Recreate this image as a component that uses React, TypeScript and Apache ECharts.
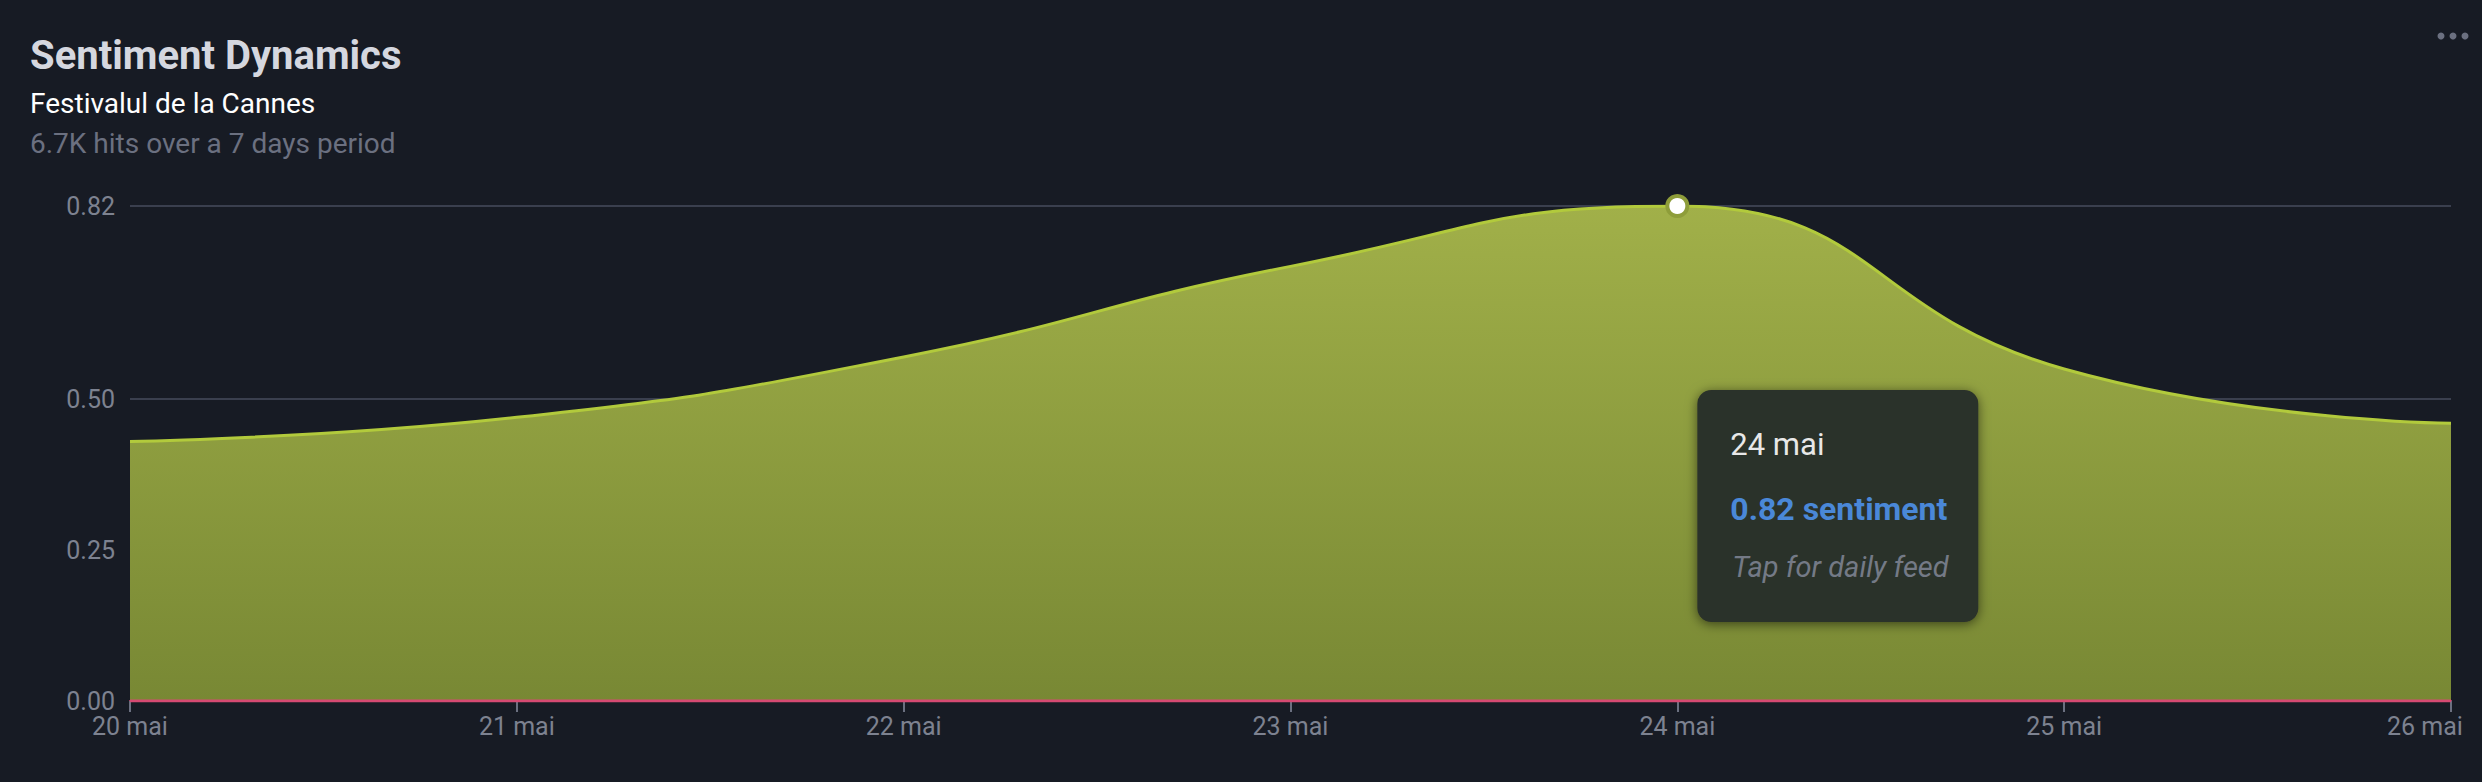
import React, { useEffect, useRef } from "react";
import * as echarts from "echarts";

const TITLE = "Sentiment Dynamics";
const SUBTITLE = "Festivalul de la Cannes";
const META = "6.7K hits over a 7 days period";

const dates = ["20 mai", "21 mai", "22 mai", "23 mai", "24 mai", "25 mai", "26 mai"];
const sentiment = [0.43, 0.47, 0.57, 0.72, 0.82, 0.55, 0.46];
const negative = [0, 0, 0, 0, 0, 0, 0];
const yTicks = [0, 0.25, 0.5, 0.82];
const Y_MAX = 0.82;
const HOVER_INDEX = 4;
const TOOLTIP_HINT = "Tap for daily feed";

const FONT = "Roboto, 'Noto Sans', sans-serif";

export default function App() {
  const ref = useRef<HTMLDivElement>(null);

  useEffect(() => {
    document.body.style.margin = "0";
    document.body.style.background = "#171b24";
    const el = ref.current!;
    const chart = echarts.init(el, null, { renderer: "svg" });

    const lineData = sentiment.map((v, i) =>
      i === HOVER_INDEX
        ? {
            value: v,
            symbol: "circle",
            symbolSize: 20,
            itemStyle: { color: "#ffffff", borderColor: "#8e9d3a", borderWidth: 4 },
          }
        : { value: v, symbol: "none" }
    );

    const xLabelStyle = { color: "#7d8290", fontSize: 25, fontFamily: FONT };

    const option: any = {
      animation: false,
      backgroundColor: "#171b24",
      textStyle: { fontFamily: FONT },
      title: [
        {
          text: TITLE,
          left: 30,
          top: 35,
          padding: 0,
          textStyle: { color: "#d5d7df", fontSize: 40, fontWeight: "bold", fontFamily: FONT },
        },
        {
          text: SUBTITLE,
          left: 30,
          top: 89,
          padding: 0,
          textStyle: { color: "#ffffff", fontSize: 28, fontWeight: "normal", fontFamily: FONT },
        },
        {
          text: META,
          left: 30,
          top: 129,
          padding: 0,
          textStyle: { color: "#6b7080", fontSize: 28, fontWeight: "normal", fontFamily: FONT },
        },
      ],
      grid: { left: 130, right: 31, top: 206, bottom: 81, containLabel: false, outerBoundsMode: "none" },
      xAxis: {
        type: "category",
        data: dates,
        boundaryGap: false,
        axisLine: { show: true, lineStyle: { color: "#d64a72", width: 2 } },
        axisTick: { show: true, length: 11, lineStyle: { color: "#6b7080", width: 2 } },
        axisLabel: {
          ...xLabelStyle,
          margin: 13,
          formatter: (value: string, index: number) =>
            index === dates.length - 1 ? `{v|${value}}{s|}` : value,
          rich: {
            v: { ...xLabelStyle },
            s: { width: 52 },
          },
        },
        splitLine: { show: false },
      },
      yAxis: {
        type: "value",
        min: 0,
        max: Y_MAX,
        axisLine: { show: false },
        axisTick: { show: false, customValues: yTicks },
        axisLabel: {
          color: "#7d8290",
          fontSize: 25,
          margin: 15,
          fontFamily: FONT,
          customValues: yTicks,
          formatter: (v: number) => v.toFixed(2),
        },
        splitLine: { show: true, lineStyle: { color: "#3a3f4e", width: 2 } },
      },
      series: [
        {
          name: "sentiment",
          type: "line",
          data: lineData,
          smooth: 0.5,
          showAllSymbol: true,
          z: 3,
          lineStyle: { color: "#b2ca3c", width: 3 },
          itemStyle: { color: "#b2ca3c" },
          areaStyle: {
            opacity: 1,
            color: new echarts.graphic.LinearGradient(0, 0, 0, 1, [
              { offset: 0, color: "#a1b049" },
              { offset: 1, color: "#788834" },
            ]),
          },
          markLine: {
            silent: true,
            symbol: "none",
            label: { show: false },
            lineStyle: { color: "#e0e0e0", width: 2, type: "solid" },
            data: [{ xAxis: HOVER_INDEX }],
            z: 2,
          },
        },
        {
          name: "negative",
          type: "line",
          data: negative,
          symbol: "none",
          z: 4,
          lineStyle: { color: "#d64a72", width: 3 },
        },
      ],
    };

    chart.setOption(option);

    const [px, py] = chart.convertToPixel({ gridIndex: 0 }, [HOVER_INDEX, sentiment[HOVER_INDEX]]) as number[];
    const bx = px + 20;
    const by = py + 184;
    const tx = px + 53;

    chart.setOption({
      graphic: [
        {
          type: "rect",
          shape: { x: bx, y: by, width: 281, height: 232, r: 14 },
          style: {
            fill: "#2c3229",
            shadowBlur: 12,
            shadowColor: "rgba(0,0,0,0.55)",
            shadowOffsetY: 2,
          },
          z: 100,
        },
        {
          type: "text",
          x: tx,
          y: by + 54,
          style: {
            text: dates[HOVER_INDEX],
            fill: "#e8e8e8",
            font: `31px ${FONT}`,
            verticalAlign: "middle",
          },
          z: 101,
        },
        {
          type: "text",
          x: tx,
          y: by + 119,
          style: {
            text: `${sentiment[HOVER_INDEX].toFixed(2)} sentiment`,
            fill: "#4a88d8",
            font: `bold 32px ${FONT}`,
            verticalAlign: "middle",
          },
          z: 101,
        },
        {
          type: "text",
          x: tx + 2,
          y: by + 177,
          style: {
            text: TOOLTIP_HINT,
            fill: "#747a86",
            font: `italic 29px ${FONT}`,
            verticalAlign: "middle",
          },
          z: 101,
        },
        { type: "circle", shape: { cx: 2441, cy: 36, r: 3.5 }, style: { fill: "#6b7080" } },
        { type: "circle", shape: { cx: 2453, cy: 36, r: 3.5 }, style: { fill: "#6b7080" } },
        { type: "circle", shape: { cx: 2465, cy: 36, r: 3.5 }, style: { fill: "#6b7080" } },
      ],
    });

    return () => chart.dispose();
  }, []);

  return (
    <div
      ref={ref}
      style={{ position: "fixed", left: 0, top: 0, width: 2482, height: 782, background: "#171b24" }}
    />
  );
}
